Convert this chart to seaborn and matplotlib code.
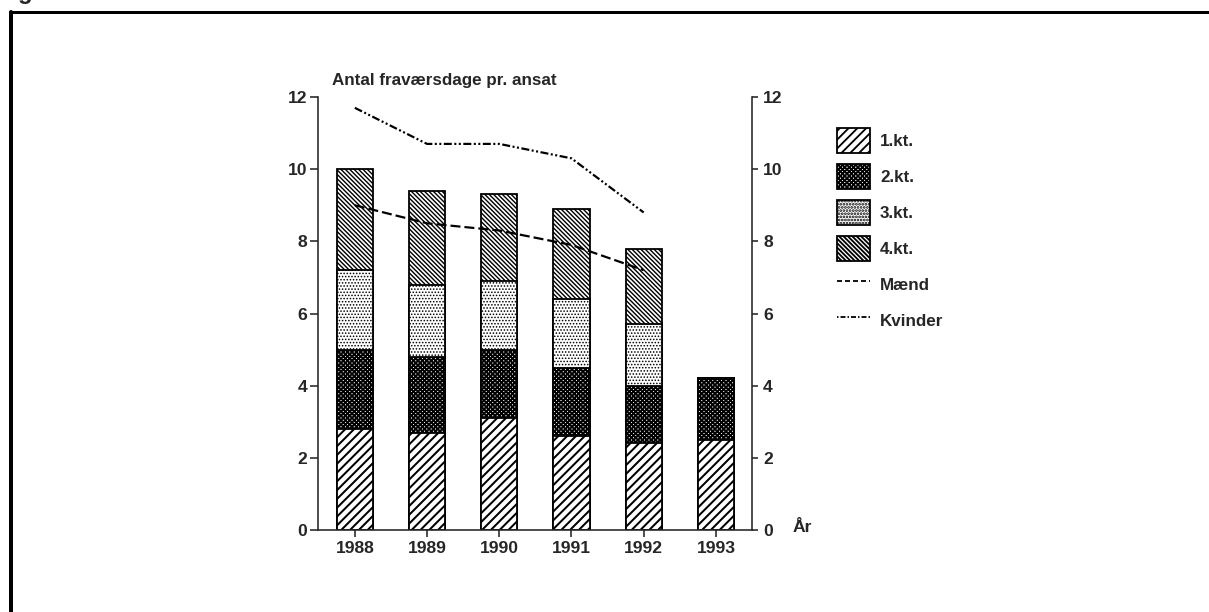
import numpy as np
import matplotlib as mpl
import matplotlib.pyplot as plt
from matplotlib.patches import Patch
from matplotlib.lines import Line2D
import seaborn as sns

# Absence days per employee, by quarter (stacked) and by gender (lines)
years = ['1988', '1989', '1990', '1991', '1992', '1993']
kt1 = [2.8, 2.7, 3.1, 2.6, 2.4, 2.5]
kt2 = [2.2, 2.1, 1.9, 1.9, 1.6, 1.7]
kt3 = [2.2, 2.0, 1.9, 1.9, 1.7, 0.0]
kt4 = [2.8, 2.6, 2.4, 2.5, 2.1, 0.0]
maend = [9.0, 8.5, 8.3, 7.9, 7.2]
kvinder = [11.7, 10.7, 10.7, 10.3, 8.8]
layer_labels = ['1.kt.', '2.kt.', '3.kt.', '4.kt.']
line_labels = ['Mænd', 'Kvinder']

W, H, DPI = 1209, 612, 132


def pt(px):
    return px * 72 / DPI


sns.set_style('white')
plt.rcParams['font.family'] = ['Liberation Sans', 'DejaVu Sans']
plt.rcParams['font.weight'] = 'bold'
plt.rcParams['lines.scale_dashes'] = False

# hatch pattern and hatch line width for each quarter
hatches = ['/' * 5, 'x' * 10, '.' * 7, '\\' * 10]
hatch_widths = [pt(2.0), pt(1.9), pt(1.0), pt(1.4)]

fig = plt.figure(figsize=(W / DPI, H / DPI), dpi=DPI)
ax = fig.add_axes([318 / W, 1 - 530 / H, (752 - 318) / W, (530 - 97) / H])

layers = [kt1, kt2, kt3, kt4]
tops = np.cumsum(np.array(layers), axis=0)

# stacked bars: draw cumulative totals from the top layer down
for i in range(3, -1, -1):
    with mpl.rc_context({'hatch.linewidth': hatch_widths[i]}):
        sns.barplot(x=years, y=tops[i], color='white', saturation=1,
                    width=0.5, edgecolor='black', linewidth=pt(1.8),
                    hatch=hatches[i], ax=ax)
    for p in ax.containers[-1]:
        if hasattr(p, 'set_hatch_linewidth'):
            p.set_hatch_linewidth(hatch_widths[i])

mdash = (0, (pt(10), pt(4)))
kdash = (0, (pt(8), pt(2.5), pt(2), pt(2.5), pt(2), pt(2.5)))
sns.lineplot(x=np.arange(len(maend)), y=maend, color='black', lw=pt(2.2), ax=ax)
ax.lines[-1].set_linestyle(mdash)
sns.lineplot(x=np.arange(len(kvinder)), y=kvinder, color='black', lw=pt(2.2), ax=ax)
ax.lines[-1].set_linestyle(kdash)

fs = pt(17.5)
ax.set_xlim(-0.51, 5.5)
ax.set_ylim(0, 12)
ax.set_yticks(range(0, 13, 2))
ax.set_xlabel('')
ax.set_ylabel('')
for s in ['top', 'right']:
    ax.spines[s].set_visible(False)
for s in ['left', 'bottom']:
    ax.spines[s].set_linewidth(pt(1.6))
ax.tick_params(axis='y', left=True, length=pt(8), width=pt(1.6), pad=pt(3),
               labelsize=fs)
ax.tick_params(axis='x', bottom=True, length=pt(7), width=pt(1.6), pad=pt(4),
               labelsize=fs)

ax2 = ax.twinx()
ax2.set_ylim(0, 12)
ax2.set_yticks(range(0, 13, 2))
for s in ['top', 'left', 'bottom']:
    ax2.spines[s].set_visible(False)
ax2.spines['right'].set_linewidth(pt(1.6))
ax2.tick_params(axis='y', right=True, length=pt(6), width=pt(1.6), pad=pt(5),
                labelsize=fs)

fig.text(332 / W, 1 - 80 / H, 'Antal fraværsdage pr. ansat', fontsize=pt(17),
         va='center', ha='left')
fig.text(793 / W, 1 - 527 / H, 'År', fontsize=fs, va='center', ha='left')

# legend
handles = []
for i in range(4):
    with mpl.rc_context({'hatch.linewidth': hatch_widths[i]}):
        h = Patch(facecolor='white', edgecolor='black', linewidth=pt(1.8),
                  hatch=hatches[i])
    if hasattr(h, 'set_hatch_linewidth'):
        h.set_hatch_linewidth(hatch_widths[i])
    handles.append(h)
handles.append(Line2D([], [], color='black', lw=pt(1.8), linestyle=(0, (pt(5), pt(3)))))
handles.append(Line2D([], [], color='black', lw=pt(1.8),
                      linestyle=(0, (pt(1.5), pt(2), pt(5), pt(2)))))
lfs = 17
fig.legend(handles, layer_labels + line_labels, loc='upper left',
           bbox_to_anchor=(837 / W, 1 - 128 / H), frameon=False,
           borderpad=0, borderaxespad=0, fontsize=pt(lfs),
           handlelength=33 / lfs, handleheight=32 / lfs,
           labelspacing=11 / lfs, handletextpad=10 / lfs)

# page frame and cut-off caption
fig.add_artist(Line2D([10 / W, 1], [1 - 11.5 / H, 1 - 11.5 / H],
                      transform=fig.transFigure, color='black', lw=pt(3)))
fig.add_artist(Line2D([10.5 / W, 10.5 / W], [1 - 11.5 / H, 0],
                      transform=fig.transFigure, color='black', lw=pt(4)))
fig.text(18 / W, 1 + 1 / H, 'g', fontsize=pt(24), va='baseline', ha='left')

fig.savefig('out.png', dpi=DPI)
